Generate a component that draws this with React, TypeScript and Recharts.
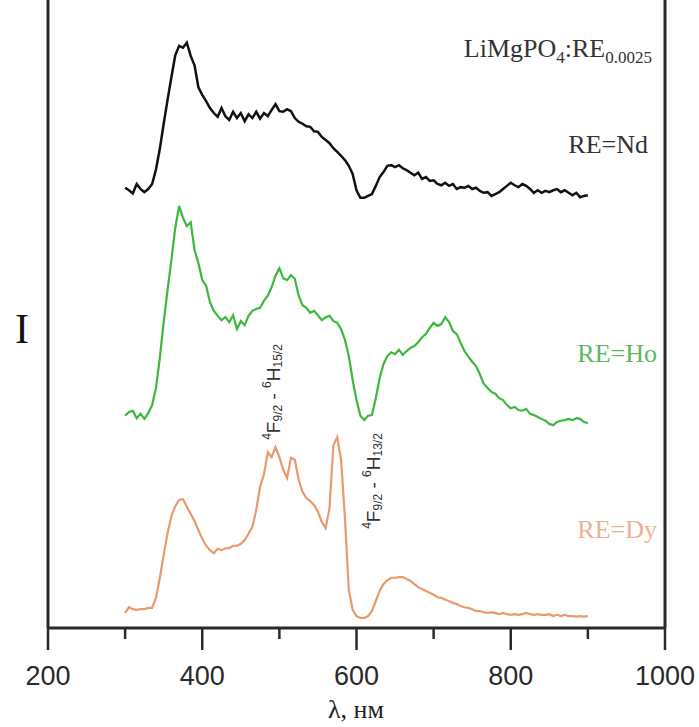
import React from 'react'
import { LineChart, Line, XAxis, YAxis, ReferenceLine } from 'recharts'

// wavelength grid, nm
const wavelengths = [
  300, 305, 310, 315, 320, 325, 330, 335, 340, 345,
  350, 355, 360, 365, 370, 375, 380, 385, 390, 395,
  400, 405, 410, 415, 420, 425, 430, 435, 440, 445,
  450, 455, 460, 465, 470, 475, 480, 485, 490, 495,
  500, 505, 510, 515, 520, 525, 530, 535, 540, 545,
  550, 555, 560, 565, 570, 575, 580, 585, 590, 595,
  600, 605, 610, 615, 620, 625, 630, 635, 640, 645,
  650, 655, 660, 665, 670, 675, 680, 685, 690, 695,
  700, 705, 710, 715, 720, 725, 730, 735, 740, 745,
  750, 755, 760, 765, 770, 775, 780, 785, 790, 795,
  800, 805, 810, 815, 820, 825, 830, 835, 840, 845,
  850, 855, 860, 865, 870, 875, 880, 885, 890, 895,
  900,
]

// intensities (a.u., spectra shifted vertically)
const ndValues = [
  70.1, 69.7, 69.2, 70.7, 69.9, 69.4, 69.9, 70.7, 73.0, 76.3,
  80.3, 84.1, 87.7, 91.2, 92.7, 92.4, 93.2, 91.1, 89.6, 86.1,
  84.9, 83.9, 82.8, 82.0, 81.4, 82.8, 81.5, 80.9, 82.2, 81.2,
  82.0, 80.7, 81.8, 81.2, 82.2, 81.1, 82.0, 81.5, 82.5, 83.4,
  82.3, 82.2, 82.6, 82.3, 81.2, 80.6, 80.3, 79.9, 79.8, 79.1,
  79.0, 78.2, 77.7, 77.2, 76.4, 75.8, 75.2, 74.5, 73.6, 72.3,
  69.7, 68.5, 68.5, 68.8, 69.1, 70.4, 71.8, 72.6, 73.6, 73.7,
  73.4, 73.7, 73.2, 72.9, 72.5, 72.1, 72.5, 71.5, 71.8, 71.2,
  71.3, 70.7, 70.5, 70.9, 70.4, 70.7, 69.9, 70.2, 70.1, 70.4,
  69.9, 70.1, 69.6, 69.3, 69.4, 68.8, 69.1, 69.4, 69.9, 70.4,
  70.9, 70.5, 70.2, 70.7, 70.4, 69.9, 69.3, 69.7, 69.3, 69.6,
  69.4, 69.7, 69.9, 69.4, 69.7, 69.3, 68.9, 69.3, 68.6, 68.8,
  68.9,
]

const hoValues = [
  33.8, 34.4, 34.6, 33.4, 34.1, 33.3, 34.2, 35.5, 38.2, 43.0,
  48.7, 53.8, 58.6, 63.7, 67.2, 65.3, 64.0, 64.6, 60.2, 58.1,
  55.4, 54.5, 51.9, 50.5, 49.7, 49.0, 49.5, 48.7, 49.8, 47.6,
  48.9, 48.2, 49.7, 50.5, 50.8, 51.0, 52.1, 52.9, 54.3, 56.1,
  57.3, 55.7, 55.4, 56.2, 55.6, 52.9, 51.4, 51.0, 50.2, 50.5,
  49.8, 49.0, 49.5, 49.7, 48.9, 48.6, 47.6, 45.9, 43.3, 39.5,
  36.3, 33.8, 33.1, 33.8, 33.9, 36.6, 39.8, 42.0, 43.3, 43.9,
  43.6, 44.3, 43.5, 44.1, 44.6, 44.9, 45.5, 46.3, 46.8, 47.8,
  48.6, 48.1, 48.4, 49.5, 48.7, 47.3, 46.8, 45.4, 44.1, 43.2,
  42.4, 41.7, 40.4, 38.9, 38.2, 37.6, 37.3, 36.6, 36.3, 35.5,
  35.0, 35.2, 34.7, 34.6, 34.9, 34.1, 33.9, 33.6, 33.3, 33.0,
  32.5, 32.3, 32.8, 33.0, 33.1, 33.3, 33.1, 33.4, 33.3, 32.8,
  32.6,
]

const dyValues = [
  2.4, 3.3, 3.0, 2.9, 3.0, 3.0, 3.2, 3.2, 4.8, 8.0,
  11.6, 15.1, 17.8, 19.4, 20.4, 20.5, 19.3, 18.2, 17.0, 15.6,
  14.2, 13.1, 12.4, 11.9, 12.6, 12.4, 12.7, 12.7, 13.1, 13.1,
  13.4, 14.0, 15.0, 16.1, 18.8, 22.5, 24.5, 28.0, 27.2, 28.8,
  27.2, 25.2, 23.9, 27.1, 26.8, 23.6, 21.7, 20.7, 20.2, 19.6,
  18.5, 16.9, 15.9, 19.1, 29.1, 30.4, 26.8, 17.5, 6.1, 2.9,
  1.9, 1.6, 1.6, 1.9, 2.7, 4.3, 5.9, 7.0, 7.6, 8.0,
  8.0, 8.1, 8.1, 7.8, 7.5, 7.0, 6.5, 6.2, 5.9, 5.6,
  5.3, 4.9, 4.8, 4.5, 4.3, 4.0, 3.8, 3.5, 3.3, 3.2,
  3.0, 2.7, 2.7, 2.5, 2.4, 2.5, 2.4, 2.2, 2.4, 2.2,
  2.1, 2.2, 2.1, 2.2, 2.4, 2.2, 2.1, 2.2, 2.1, 2.1,
  2.2, 1.9, 2.1, 1.9, 2.1, 1.9, 1.9, 1.8, 1.9, 1.8,
  1.9,
]

const xTicks = [200, 300, 400, 500, 600, 700, 800, 900, 1000]
const xLabels = [200, 400, 600, 800, 1000]

const data = wavelengths.map((wl, i) => ({
  wl,
  nd: ndValues[i],
  ho: hoValues[i],
  dy: dyValues[i],
}))

const axisColor = '#2a2a2a'
const serif = '"Liberation Serif", "Times New Roman", serif'
const sans = '"Liberation Sans", Arial, sans-serif'

const XTick = (props: any) => {
  const { x, y, payload } = props
  const major = xLabels.includes(payload.value)
  return (
    <g>
      <line x1={x} y1={y} x2={x} y2={y + (major ? 22 : 11)} stroke={axisColor} strokeWidth={2.5} />
      {major && (
        <text x={x} y={y + 57} textAnchor="middle" fontFamily={sans} fontSize={27} fill="#2a2a2a">
          {payload.value}
        </text>
      )}
    </g>
  )
}

const Transition = ({ x, y, upper }: { x: number; y: number; upper: string }) => (
  <text
    x={x}
    y={y}
    transform={`rotate(-90, ${x}, ${y})`}
    textAnchor="middle"
    dominantBaseline="central"
    fontFamily={sans}
    fontSize={19}
    fill="#333"
  >
    <tspan fontSize={12} dy={-6}>4</tspan>
    <tspan dy={6}>F</tspan>
    <tspan fontSize={12} dy={5}>9/2</tspan>
    <tspan dy={-5}> - </tspan>
    <tspan fontSize={12} dy={-6}>6</tspan>
    <tspan dy={6}>H</tspan>
    <tspan fontSize={12} dy={5}>{upper}</tspan>
  </text>
)

export default function App() {
  return (
    <div style={{ position: 'absolute', left: 0, top: 0, width: 699, height: 727, background: '#fff' }}>
      <LineChart width={699} height={727} data={data} margin={{ top: 0, right: 34, left: 48, bottom: 39 }}>
        <XAxis
          dataKey="wl"
          type="number"
          domain={[200, 1000]}
          ticks={xTicks}
          interval={0}
          height={60}
          tickSize={0}
          tickMargin={0}
          tickLine={false}
          axisLine={{ stroke: axisColor, strokeWidth: 3 }}
          tick={<XTick />}
        />
        <YAxis hide domain={[0, 100]} />
        <ReferenceLine x={200} stroke={axisColor} strokeWidth={3} />
        <ReferenceLine x={1000} stroke={axisColor} strokeWidth={3} />
        <Line type="linear" dataKey="nd" stroke="#111" strokeWidth={2.5} dot={false} isAnimationActive={false} />
        <Line type="linear" dataKey="ho" stroke="#3cb83c" strokeWidth={2.2} dot={false} isAnimationActive={false} />
        <Line type="linear" dataKey="dy" stroke="#e99a6c" strokeWidth={2.2} dot={false} isAnimationActive={false} />
      </LineChart>
      <svg width={699} height={727} style={{ position: 'absolute', left: 0, top: 0, pointerEvents: 'none' }}>
        <text x={652} y={57} textAnchor="end" fontFamily={serif} fontSize={26} fill="#333">
          LiMgPO<tspan fontSize={17} dy={6}>4</tspan>
          <tspan dy={-6}>:RE</tspan>
          <tspan fontSize={17} dy={6}>0.0025</tspan>
        </text>
        <text x={648} y={153} textAnchor="end" fontFamily={serif} fontSize={26} fill="#333">RE=Nd</text>
        <text x={657} y={362} textAnchor="end" fontFamily={serif} fontSize={26} fill="#5fb85f">RE=Ho</text>
        <text x={657} y={538} textAnchor="end" fontFamily={serif} fontSize={26} fill="#e9b394">RE=Dy</text>
        <text x={22} y={343} textAnchor="middle" fontFamily={serif} fontSize={42} fill="#111">I</text>
        <text x={356} y={718} textAnchor="middle" fontFamily={serif} fontSize={26} fill="#222">λ, нм</text>
        <Transition x={273} y={392} upper="15/2" />
        <Transition x={373} y={481} upper="13/2" />
      </svg>
    </div>
  )
}
